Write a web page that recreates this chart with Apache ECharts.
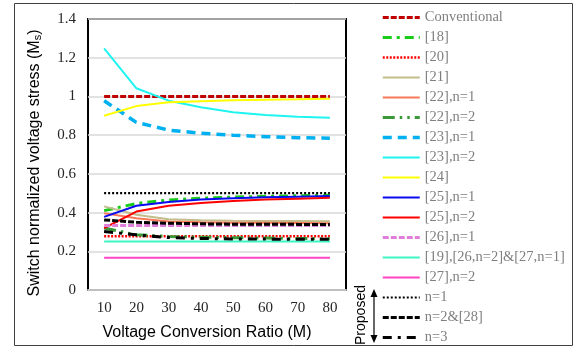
<!DOCTYPE html>
<html><head><meta charset="utf-8">
<script src="https://cdn.jsdelivr.net/npm/echarts@6/dist/echarts.min.js"></script>
<style>html,body{margin:0;padding:0;background:#fff}#c{width:579px;height:348px}</style>
</head><body><div id="c"></div>
<script>
const categories = ['10','20','30','40','50','60','70','80'];
const yTicks = [0, 0.2, 0.4, 0.6, 0.8, 1, 1.2, 1.4];

const conventional = [1, 1, 1, 1, 1, 1, 1, 1];
const ref18 = [0.41, 0.447, 0.465, 0.474, 0.48, 0.484, 0.487, 0.49];
const ref20 = [0.278, 0.278, 0.278, 0.278, 0.278, 0.278, 0.278, 0.278];
const ref21 = [0.432, 0.389, 0.366, 0.36, 0.358, 0.357, 0.356, 0.355];
const ref22n1 = [0.397, 0.371, 0.354, 0.35, 0.348, 0.347, 0.346, 0.345];
const ref22n2 = [0.32, 0.285, 0.277, 0.273, 0.27, 0.268, 0.266, 0.265];
const ref23n1 = [0.978, 0.866, 0.826, 0.81, 0.8, 0.792, 0.787, 0.784];
const ref23n2 = [1.248, 1.042, 0.978, 0.944, 0.918, 0.904, 0.895, 0.89];
const ref24 = [0.9, 0.95, 0.97, 0.975, 0.98, 0.983, 0.985, 0.988];
const ref25n1 = [0.378, 0.435, 0.455, 0.467, 0.474, 0.479, 0.482, 0.485];
const ref25n2 = [0.32, 0.405, 0.435, 0.45, 0.46, 0.467, 0.472, 0.477];
const ref26n1 = [0.333, 0.333, 0.333, 0.333, 0.333, 0.333, 0.333, 0.333];
const ref19 = [0.25, 0.25, 0.25, 0.25, 0.25, 0.25, 0.25, 0.25];
const ref27n2 = [0.167, 0.167, 0.167, 0.167, 0.167, 0.167, 0.167, 0.167];
const propN1 = [0.5, 0.5, 0.5, 0.5, 0.5, 0.5, 0.5, 0.5];
const propN2 = [0.362, 0.35, 0.345, 0.342, 0.34, 0.34, 0.339, 0.338];
const propN3 = [0.302, 0.285, 0.271, 0.266, 0.264, 0.263, 0.262, 0.262];

const seriesDefs = [
  ['Conventional', conventional, '#C00000', 3, [6, 2]],
  ['[18]', ref18, '#1ACC1A', 3, [9, 5, 3, 5]],
  ['[20]', ref20, '#FF0000', 2.5, [2, 1.5]],
  ['[21]', ref21, '#C2BE8C', 2, 'solid'],
  ['[22],n=1', ref22n1, '#F8785A', 2, 'solid'],
  ['[22],n=2', ref22n2, '#3A9A3A', 3, [12, 5, 2.5, 5, 2.5, 5]],
  ['[23],n=1', ref23n1, '#00B0F0', 3.5, [9, 6]],
  ['[23],n=2', ref23n2, '#1FF5F0', 2, 'solid'],
  ['[24]', ref24, '#FFFF00', 2, 'solid'],
  ['[25],n=1', ref25n1, '#0A0AF0', 2, 'solid'],
  ['[25],n=2', ref25n2, '#FF0000', 2, 'solid'],
  ['[26],n=1', ref26n1, '#DF7FD9', 3, [6, 2]],
  ['[19],[26,n=2]&[27,n=1]', ref19, '#3CF5C4', 2, 'solid'],
  ['[27],n=2', ref27n2, '#FF44C4', 2, 'solid'],
  ['n=1', propN1, '#000000', 2.2, [2, 2]],
  ['n=2&[28]', propN2, '#000000', 3, [6, 2]],
  ['n=3', propN3, '#000000', 3, [9, 6, 3, 6]]
];

const chart = echarts.init(document.getElementById('c'), null, {renderer: 'canvas'});
const serif = "'Liberation Serif', 'Times New Roman', serif";
const sans = "'Liberation Sans', Arial, sans-serif";

chart.setOption({
  animation: false,
  backgroundColor: '#ffffff',
  grid: {left: 88, top: 19, right: 233, bottom: 58, show: true, borderColor: '#000', borderWidth: 2, backgroundColor: 'transparent'},
  legend: {
    orient: 'vertical', left: 381, top: 10, padding: 0,
    itemWidth: 37, itemHeight: 14, itemGap: 5,
    itemStyle: {opacity: 0},
    textStyle: {fontFamily: serif, fontSize: 14.5, color: '#7f7f7f', lineHeight: 14},
    data: seriesDefs.map(d => ({name: d[0], lineStyle: {width: d[3], type: d[4], color: d[2]}}))
  },
  xAxis: {
    type: 'category', data: categories, boundaryGap: true,
    axisLine: {show: true, lineStyle: {color: '#bfbfbf', width: 2}},
    axisTick: {show: false},
    axisLabel: {fontFamily: serif, fontSize: 15, color: '#262626', margin: 11}
  },
  yAxis: {
    type: 'value', min: yTicks[0], max: yTicks[yTicks.length - 1], interval: 0.2,
    axisLine: {show: false}, axisTick: {show: false},
    axisLabel: {fontFamily: serif, fontSize: 15, color: '#262626', margin: 12},
    splitLine: {lineStyle: {color: '#d9d9d9', width: 1.5}}
  },
  series: seriesDefs.map(d => ({
    name: d[0], type: 'line', data: d[1], symbol: 'none', showSymbol: false,
    smooth: false,
    itemStyle: {color: d[2]},
    lineStyle: {color: d[2], width: d[3], type: d[4]}
  })),
  graphic: [
    {type: 'rect', shape: {x: 14.5, y: 3.5, width: 558, height: 342}, style: {fill: 'none', stroke: '#404040', lineWidth: 1}, silent: true, z: -10},
    {type: 'text', x: 207, y: 333, style: {text: 'Voltage Conversion Ratio (M)', font: "16px 'Liberation Sans', Arial, sans-serif", fill: '#000', textAlign: 'center', textVerticalAlign: 'middle'}},
    {type: 'text', x: 35, y: 163, rotation: Math.PI / 2,
      style: {text: 'Switch normalized voltage stress (M{s|s})', fontFamily: sans, fontSize: 16, fill: '#000', align: 'center', verticalAlign: 'middle',
        rich: {s: {fontFamily: sans, fontSize: 11, fill: '#000', padding: [6, 0, 0, 0]}}}},
    {type: 'text', x: 361, y: 315, rotation: Math.PI / 2,
      style: {text: 'Proposed', font: "14px 'Liberation Sans', Arial, sans-serif", fill: '#000', textAlign: 'center', textVerticalAlign: 'middle'}},
    {type: 'line', shape: {x1: 374, y1: 295, x2: 374, y2: 337}, style: {stroke: '#000', lineWidth: 1.2}},
    {type: 'polygon', shape: {points: [[374, 289], [370.5, 297], [377.5, 297]]}, style: {fill: '#000'}},
    {type: 'polygon', shape: {points: [[374, 343], [370.5, 335], [377.5, 335]]}, style: {fill: '#000'}}
  ]
});
</script>
</body></html>
